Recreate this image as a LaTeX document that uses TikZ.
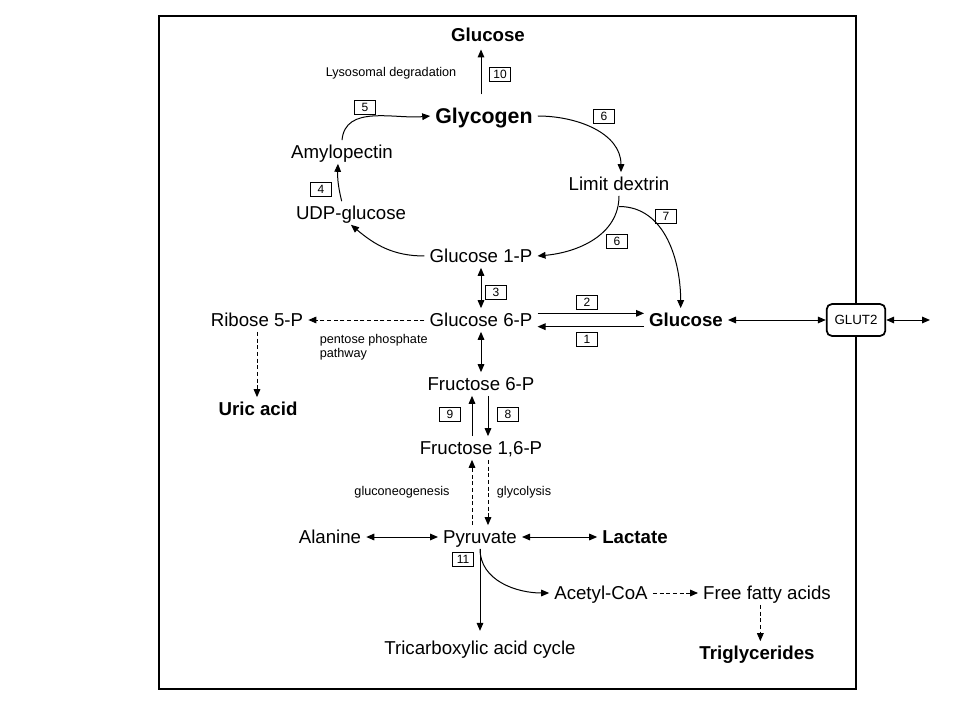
\documentclass[tikz,border=0pt]{standalone}
\usepackage{fontspec}
\setmainfont{Liberation Sans}
\usetikzlibrary{arrows.meta}

\begin{document}
\begin{tikzpicture}[x=0.75pt, y=-0.75pt, line width=0.75pt,
  metab/.style={font=\fontsize{14}{16}\selectfont, inner xsep=3.5pt, inner ysep=1pt, text height=12.5pt, text depth=2.5pt},
  keymetab/.style={metab, font=\fontsize{14}{16}\selectfont\bfseries},
  note/.style={font=\fontsize{9.5}{11}\selectfont, inner sep=1pt},
  numbox/.style={draw, line width=0.6pt, font=\fontsize{9}{10}\selectfont, minimum width=16pt, minimum height=10.5pt, inner sep=0pt},
  glutbox/.style={draw, fill=white, line width=1.3pt, rounded corners=4pt, font=\fontsize{10}{12}\selectfont, minimum width=44pt, minimum height=24pt},
  conv/.style={-{Triangle[length=6pt,width=5pt]}},
  rev/.style={{Triangle[length=6pt,width=5pt]}-{Triangle[length=6pt,width=5pt]}},
  PathDashed/.style={conv, dash pattern=on 3pt off 2pt}]
\useasboundingbox (0,0) rectangle (960,720);
\draw[line width=2.2pt] (159,16) rectangle (856,689);

% metabolites
\node[keymetab] (glcTop) at (488,35) {Glucose};
\node[keymetab, font=\fontsize{16}{18}\selectfont\bfseries, text height=14.5pt, text depth=3pt] (glycogen) at (484,116) {Glycogen};
\node[metab] (amylo) at (342,152) {Amylopectin};
\node[metab] (limitDex) at (619,184) {Limit dextrin};
\node[metab] (udpGlc) at (351,213) {UDP-glucose};
\node[metab] (g1p) at (481,256) {Glucose 1-P};
\node[metab] (g6p) at (481,320) {Glucose 6-P};
\node[metab] (rib5p) at (257,320) {Ribose 5-P};
\node[keymetab] (glcBlood) at (686,320) {Glucose};
\node[glutbox] (glut) at (856,320) {GLUT2};
\coordinate (plasma) at (930,320);
\node[metab] (f6p) at (481,384) {Fructose 6-P};
\node[keymetab] (uric) at (258,409) {Uric acid};
\node[metab] (f16p) at (481,448) {Fructose 1,6-P};
\node[metab] (alanine) at (330,537) {Alanine};
\node[metab] (pyruvate) at (480,537) {Pyruvate};
\node[keymetab] (lactate) at (635,537) {Lactate};
\node[metab] (acCoA) at (601,593) {Acetyl-CoA};
\node[metab] (ffa) at (767,593) {Free fatty acids};
\node[metab] (tca) at (480,648) {Tricarboxylic acid cycle};
\node[keymetab] (trig) at (757,653) {Triglycerides};

% pathway notes
\node[note] (lyso) at (391,73) {Lysosomal degradation};
\node[note, align=left, anchor=north west] (ppp) at (318,332) {pentose phosphate\\pathway};
\node[note] (gng) at (402,492) {gluconeogenesis};
\node[note] (glyc) at (524,492) {glycolysis};

% enzyme numbers
\foreach \nm/\num/\px/\py in {bTen/10/500/74, bFive/5/365/107, bSixA/6/604/116, bFour/4/321/189,
  bSeven/7/666/216, bSixB/6/617/241, bThree/3/496/292, bTwo/2/587/302, bOne/1/587/339,
  bNine/9/450/414, bEight/8/508/414, bEleven/11/463/559}
  \node[numbox] (\nm) at (\px,\py) {\num};

% glycogen cycle
\draw[conv, shorten <=6pt, shorten >=2pt] (glycogen.north -| g1p) -- (glcTop.south -| g1p);
\draw[conv] (amylo.north) to[out=85, in=185] (glycogen.west);
\draw[conv] (glycogen.east) to[out=0, in=90] ([xshift=1.5pt]limitDex.north);
\draw[conv] ([xshift=-7pt]udpGlc.north) to[bend left=8] ([xshift=-3pt]amylo.south);
\draw[conv] (g1p.west) to[out=180, in=-40] (udpGlc.south);
\draw[conv] (limitDex.south) to[out=-90, in=5] (g1p.east);
\draw[conv] ([yshift=-8pt]limitDex.south) to[out=0, in=90] ([xshift=-4pt]glcBlood.north);

% hexose phosphates
\draw[rev] (g1p) -- (g6p);
\draw[PathDashed] (g6p) -- (rib5p);
\draw[PathDashed] (rib5p) -- (uric.north -| rib5p);
\draw[conv] ([yshift=5pt]g6p.east) -- ([yshift=5pt]glcBlood.west);
\draw[conv] ([yshift=-5pt]glcBlood.west) -- ([yshift=-5pt]g6p.east);
\draw[rev] (glcBlood) -- (glut);
\draw[rev] (glut) -- (plasma);
\draw[rev] (g6p) -- (f6p);
\draw[conv] ([xshift=-6.75pt]f16p.north) -- ([xshift=-6.75pt]f6p.south);
\draw[conv] ([xshift=5.25pt]f6p.south) -- ([xshift=5.25pt]f16p.north);
\draw[PathDashed] ([xshift=-6pt]pyruvate.north) -- ([xshift=-6pt]pyruvate.north |- f16p.south);
\draw[PathDashed] ([xshift=6pt]pyruvate.north |- f16p.south) -- ([xshift=6pt]pyruvate.north);

% pyruvate fates
\draw[rev] (alanine) -- (pyruvate);
\draw[rev] (pyruvate) -- (lactate);
\draw[conv, shorten >=4pt] (pyruvate.south) -- (tca.north);
\draw[conv] (pyruvate.south) to[out=-90, in=180] (acCoA.west);
\draw[PathDashed] (acCoA) -- (ffa);
\draw[PathDashed] ([xshift=-5pt]ffa.south) -- ([xshift=-5pt]ffa.south |- trig.north);
\end{tikzpicture}
\end{document}
